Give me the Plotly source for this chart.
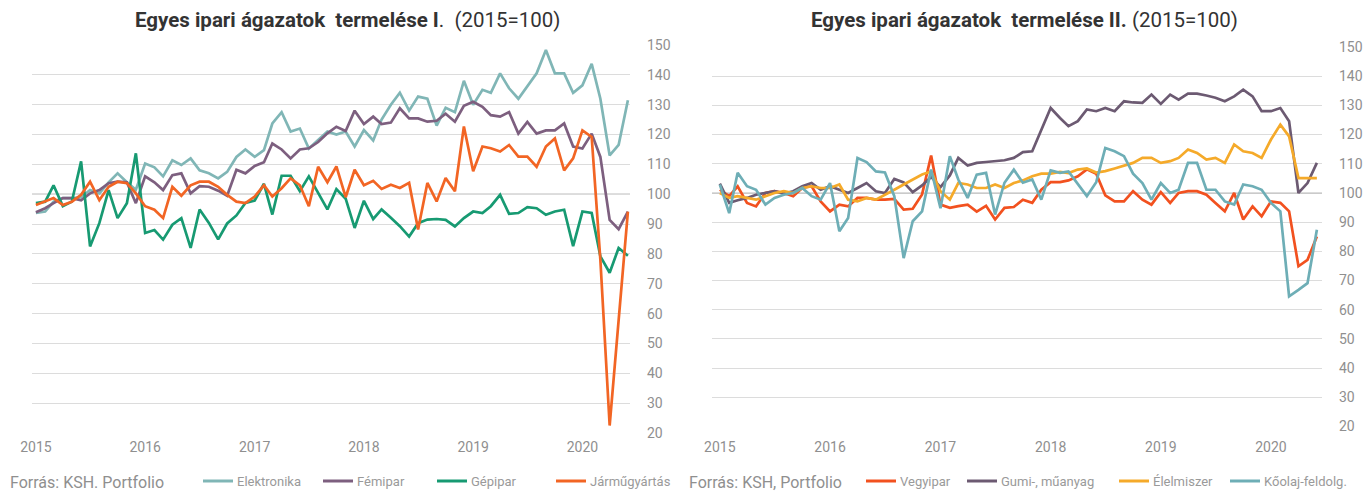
import pandas as pd
import plotly.graph_objects as go

W, H = 1365, 491
months = pd.date_range("2015-01-01", periods=66, freq="MS")
years = ["2015", "2016", "2017", "2018", "2019", "2020"]
year_ticks = [f"{y}-01-01" for y in years]
y_ticks = list(range(20, 151, 10))

# ---- Chart I ----
elektronika = [93.7, 94.2, 97.5, 98.7, 98.7, 99, 101.4, 100.3, 104, 107, 104, 101.5,
               110.3, 109, 106, 111.4, 109.8, 112, 108, 107, 105.3, 107.5, 112.5, 115,
               112.5, 114.8, 123.7, 127.5, 121, 122, 115.3, 118, 121, 120, 121, 116,
               121.5, 118, 125, 130, 134, 128, 132.7, 132, 123, 129, 127.5, 138,
               130, 135, 134, 140.5, 135.5, 132, 136, 140.5, 148.3, 140.5, 140.5, 134,
               136.5, 143.7, 132, 113, 116.5, 131.5]
femipar = [94, 95.3, 97, 98.7, 98.7, 98, 100.3, 101.4, 103.7, 104.2, 104, 97,
           106, 104, 101.4, 106.4, 107, 100.3, 102.7, 102.5, 101.2, 99.5, 108.2, 107,
           109.5, 110.7, 117, 115, 112, 115, 115.4, 117.5, 120.4, 122.6, 121.2, 128,
           123.5, 126, 123.5, 124, 128.8, 125.4, 125.4, 124.3, 124.6, 127, 124.3, 129.6,
           131, 129.3, 126.5, 126, 127.5, 120.3, 124.2, 120.3, 121.4, 121.4, 123.7, 116,
           115.3, 120.3, 112.5, 91.4, 88.3, 94.2]
gepipar = [97, 97.5, 103, 96, 97.5, 111, 82.5, 90.3, 101.4, 92, 97, 113.7,
           87, 88, 84.8, 89.8, 92, 82, 94.9, 90.4, 84.9, 90.2, 92.9, 97.1,
           97.9, 103.5, 93.2, 106.2, 106.2, 101, 106, 100.2, 94.9, 101.7, 98.5, 88.7,
           97.8, 91.7, 94.9, 92.1, 89.3, 85.8, 90.3, 91.5, 91.7, 91.4, 89.2, 92,
           94.2, 93.7, 96, 99.8, 93.4, 93.7, 95.7, 95.3, 93.1, 94.2, 94.8, 82.6,
           94.2, 93.7, 79.2, 73.7, 82, 79.4]
jarmugyartas = [96.4, 97.5, 98.7, 96.4, 97.5, 99.8, 104.2, 98, 102.5, 104.2, 103.7, 100.3,
                96, 94.8, 92, 102.5, 99.5, 103, 104.2, 104.2, 102.5, 99.8, 97.5, 97,
                99.2, 103, 99.2, 102, 105.3, 103, 96, 109.2, 104, 109.3, 99, 108.2,
                103, 104.5, 101.8, 103.2, 102.1, 103.8, 88.2, 103.8, 97.6, 105.4, 101, 122.7,
                107.7, 116, 115.4, 114.3, 116.5, 112.6, 112.6, 109.2, 116, 118.7, 108, 112,
                121.4, 119.2, 78, 22.5, 57, 94.2]

# ---- Chart II ----
vegyipar = [101.1, 98.9, 102.3, 96.6, 95.4, 100, 100.6, 100, 98.9, 101.7, 102.3, 97.1,
            93.7, 96, 95.4, 98.3, 98.3, 97.7, 97.7, 98, 94.3, 94.6, 99.5, 112.8,
            96, 94.9, 95.5, 96, 93.6, 95.6, 90.9, 94.9, 95.2, 97.7, 96.6, 101.1,
            103.7, 103.7, 104.3, 105.7, 108.1, 106.6, 99.2, 97.1, 97.1, 100.6, 97.7, 96,
            100.3, 96.6, 100, 100.6, 100.6, 99.4, 96.6, 93.7, 100, 90.9, 95.4, 92,
            97.1, 96.6, 93.7, 74.9, 77.1, 85.1]
gumi = [103.2, 96.6, 97.5, 98.3, 99.4, 100, 100.6, 99.8, 100.6, 102.3, 103.4, 101.1,
        102.3, 101.1, 100, 101.7, 103.4, 100.6, 100, 104.8, 103.6, 100.3, 102.6, 105.5,
        102, 106, 112, 109.4, 110.3, 110.6, 110.9, 111.2, 112, 114, 114.3, 121.5,
        129.1, 125.7, 122.9, 124.6, 128.6, 128, 129.1, 128, 131.4, 131, 130.9, 133.7,
        130.5, 133.7, 132, 134, 134, 133.4, 132.6, 131.4, 133.1, 135.4, 133.1, 128,
        128, 129.1, 124.6, 100, 103.4, 110.3]
elelmiszer = [100, 98.3, 98.9, 98.3, 97.7, 98.9, 100, 100.6, 100, 101.7, 102.3, 101.7,
              101.7, 102.9, 97.7, 97.1, 98.3, 97.7, 99.5, 101.1, 102.9, 104.6, 106.3, 107.4,
              100.6, 97.7, 103.4, 102.9, 101.7, 101.7, 102.9, 101.7, 103.4, 104.3, 105.7, 106.6,
              106.6, 107.2, 106.8, 108, 108.4, 107, 107.5, 108.4, 109.5, 110.3, 112, 112,
              110.3, 110.9, 112, 114.9, 113.7, 111.4, 112, 110.3, 116.6, 114.3, 113.7, 112,
              118.3, 123.4, 119.4, 105.1, 105.1, 105.1]
koolaj = [102.9, 93.1, 106.9, 102.3, 101.1, 96, 98.3, 99.4, 100, 101.7, 98.9, 97.7,
          103.4, 86.9, 91.4, 112, 110.6, 107.4, 107, 98.9, 77.7, 90.3, 93.7, 108,
          94.8, 112.6, 104.6, 98.3, 106.3, 106.9, 92.6, 103.5, 108, 103.5, 104.6, 97.7,
          107.7, 106.9, 107.4, 103, 98.9, 103.7, 115.4, 114.3, 112.6, 106.6, 103.4, 97.7,
          103.4, 100, 101.1, 110.3, 110.3, 101.1, 101.1, 97.1, 96, 102.9, 102.3, 101.1,
          96.6, 93.7, 64.6, 66.8, 69.1, 87.4]

left_names = ["Elektronika", "Fémipar", "Gépipar", "Járműgyártás"]
left_data = [elektronika, femipar, gepipar, jarmugyartas]
left_colors = ["#80b6b6", "#7d5f7f", "#179a72", "#f26524"]

right_names = ["Vegyipar", "Gumi-, műanyag", "Élelmiszer", "Kőolaj-feldolg."]
right_data = [vegyipar, gumi, elelmiszer, koolaj]
right_colors = ["#f2511f", "#6c5a72", "#f5aa2a", "#6eaeb6"]

fig = go.Figure()
for name, vals, col in zip(left_names, left_data, left_colors):
    fig.add_trace(go.Scatter(x=months, y=vals, name=name, mode="lines",
                             line=dict(color=col, width=2.7), xaxis="x", yaxis="y",
                             showlegend=False))
for name, vals, col in zip(right_names, right_data, right_colors):
    fig.add_trace(go.Scatter(x=months, y=vals, name=name, mode="lines",
                             line=dict(color=col, width=2.7), xaxis="x2", yaxis="y2",
                             showlegend=False))

tick_font = dict(family="Roboto, Arial, sans-serif", size=14, color="#8f8f8f")
grid = "#dcdcdc"

def xax(domain, rng):
    return dict(domain=domain, range=rng, tickvals=year_ticks, ticktext=years,
                showgrid=False, zeroline=False, showline=False, ticks="",
                tickfont=tick_font, ticklabelstandoff=4, automargin=False)

def yax(domain, anchor):
    return dict(domain=domain, range=[20, 150], tickvals=y_ticks, side="right",
                anchor=anchor, showgrid=True, gridcolor=grid, gridwidth=1,
                zeroline=False, showline=False, ticks="", tickfont=tick_font,
                ticklabelstandoff=16, automargin=False)

fig.update_layout(
    width=W, height=H, autosize=False,
    margin=dict(l=0, r=0, t=0, b=0, autoexpand=False),
    paper_bgcolor="white", plot_bgcolor="white",
    xaxis=xax([32 / W, 630 / W], ["2014-12-19", "2020-06-08"]),
    yaxis=yax([58 / H, 446 / H], "x"),
    xaxis2=xax([712 / W, 1322 / W], ["2014-12-06", "2020-06-18"]),
    yaxis2=yax([64.5 / H, 444 / H], "x2"),
)

shapes = []
for xr, yr in (("x", "y"), ("x2", "y2")):
    shapes.append(dict(type="line", xref=f"{xr} domain", yref=yr, x0=0, x1=1,
                       y0=100, y1=100, line=dict(color="#8a8a8a", width=1),
                       layer="below"))

annotations = []
title_font = dict(family="Roboto, Arial, sans-serif", size=20.5, color="#333333")
annotations.append(dict(text="<b>Egyes ipari ágazatok  termelése I</b>.  (2015=100)",
                        x=348 / W, y=1 - 20 / H, xref="paper", yref="paper",
                        showarrow=False, font=title_font, xanchor="center", yanchor="middle"))
annotations.append(dict(text="<b>Egyes ipari ágazatok  termelése II.</b> (2015=100)",
                        x=1024 / W, y=1 - 20 / H, xref="paper", yref="paper",
                        showarrow=False, font=title_font, xanchor="center", yanchor="middle"))

src_font = dict(family="Roboto, Arial, sans-serif", size=16, color="#8f8f8f")
annotations.append(dict(text="Forrás: KSH. Portfolio", x=8 / W, y=1 - 482 / H,
                        xref="paper", yref="paper", showarrow=False, font=src_font,
                        xanchor="left", yanchor="middle"))
annotations.append(dict(text="Forrás: KSH, Portfolio", x=687 / W, y=1 - 482 / H,
                        xref="paper", yref="paper", showarrow=False, font=src_font,
                        xanchor="left", yanchor="middle"))

leg_font = dict(family="Roboto, Arial, sans-serif", size=13, color="#9a9a9a")
left_leg_x = [203, 323, 437, 556]
right_leg_x = [866, 967, 1119, 1230]
ly = 1 - 481 / H
for names, cols, xs in ((left_names, left_colors, left_leg_x),
                        (right_names, right_colors, right_leg_x)):
    for n, c, x0 in zip(names, cols, xs):
        shapes.append(dict(type="line", xref="paper", yref="paper",
                           x0=x0 / W, x1=(x0 + 30) / W, y0=ly, y1=ly,
                           line=dict(color=c, width=3)))
        annotations.append(dict(text=n, x=(x0 + 32) / W, y=ly, xref="paper",
                                yref="paper", showarrow=False, font=leg_font,
                                xanchor="left", yanchor="middle"))

fig.update_layout(shapes=shapes, annotations=annotations)
fig.write_html("out.html",
               config={"responsive": False, "displayModeBar": False},
               post_script="document.body.style.margin='0';")
